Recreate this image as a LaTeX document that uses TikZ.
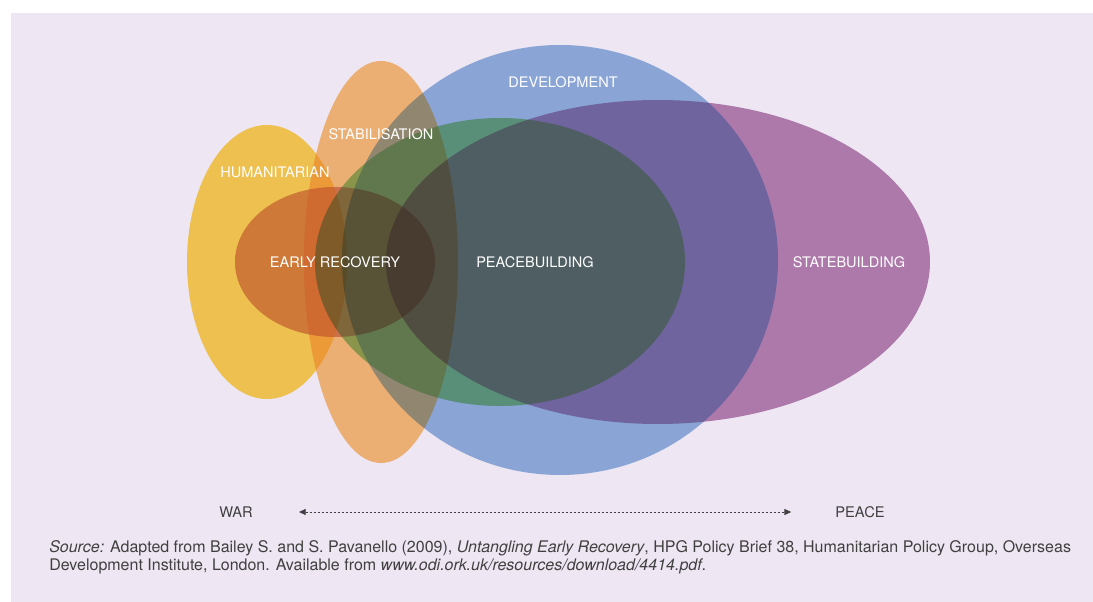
\documentclass[tikz,border=0pt]{standalone}
\usepackage{fontspec}
\setmainfont{TeX Gyre Heros}
\usetikzlibrary{positioning,arrows.meta}

\definecolor{bgpaper}{HTML}{EEE6F3}
\definecolor{humcol}{HTML}{FED554}
\definecolor{stabcol}{HTML}{FCC37A}
\definecolor{earlycol}{HTML}{DA9382}
\definecolor{devcol}{HTML}{94B7E0}
\definecolor{peacecol}{HTML}{8CCE84}
\definecolor{statecol}{HTML}{BA87B4}
\definecolor{captext}{HTML}{404040}

% the six zones, in pixels of the page
\newcommand\zoneshape[1]{\ifcase#1\or
	(267,262) ellipse [x radius=80, y radius=137]\or
	(381,262) ellipse [x radius=77, y radius=201]\or
	(335,262) ellipse [x radius=100, y radius=75]\or
	(560,260) ellipse [x radius=218, y radius=215]\or
	(500,262) ellipse [x radius=185, y radius=144]\or
	(658,262) ellipse [x radius=272, y radius=162]\fi}

\begin{document}
\begin{tikzpicture}[
		x=0.75pt, y=-0.75pt,
		zonelabel/.style={text=white, font=\fontsize{10.9}{13}\selectfont},
		endlabel/.style={text=captext, inner sep=0pt, font=\fontsize{11}{13}\selectfont},
		>={Triangle[length=5pt,width=4.5pt]}
		]
		% Fix the page and draw the paper
		\useasboundingbox (0,0) rectangle (1093,602);
		\fill[bgpaper] (11,13) rectangle (1093,602);
		% Draw the overlapping zones
		\begin{scope}[blend mode=multiply]
			\foreach \i/\col in {1/humcol,2/stabcol,3/earlycol,4/devcol,5/peacecol,6/statecol} {
				\fill[\col] \zoneshape{\i};
			}
		\end{scope}
		% Lighten where two zones meet
		\begin{scope}[transparency group, opacity=0.08]
			\foreach \i in {1,...,6} {
				\foreach \j in {1,...,6} {
					\ifnum\i<\j
						\begin{scope}
							\clip \zoneshape{\i};
							\fill[white] \zoneshape{\j};
						\end{scope}
					\fi
				}
			}
		\end{scope}
		% Lighten a little more where three zones meet
		\begin{scope}[transparency group, opacity=0.06]
			\foreach \i in {1,...,6} {
				\foreach \j in {1,...,6} {
					\foreach \k in {1,...,6} {
						\ifnum\i<\j \ifnum\j<\k
							\begin{scope}
								\clip \zoneshape{\i};
								\clip \zoneshape{\j};
								\fill[white] \zoneshape{\k};
							\end{scope}
						\fi\fi
					}
				}
			}
		\end{scope}
		% Draw the zone labels
		\node[zonelabel] (humlabel) at (275,172) {HUMANITARIAN};
		\node[zonelabel] (stablabel) at (381,134) {STABILISATION};
		\node[zonelabel] (devlabel) at (563,82) {DEVELOPMENT};
		\node[zonelabel] (earlylabel) at (335,262) {EARLY RECOVERY};
		\node[zonelabel] (peacelabel) at (535,262) {PEACEBUILDING};
		\node[zonelabel] (statelabel) at (849,262) {STATEBUILDING};
		% Draw the war to peace axis
		\node[endlabel] (war) at (236,512) {WAR};
		\node[endlabel] (peace) at (860,512) {PEACE};
		\draw[<->, captext, dash pattern=on 1.5pt off 1.5pt, line width=0.5pt,
			shorten <=34.5pt, shorten >=33pt] (war) -- (peace);
		% Draw the source note
		\node[anchor=north west, align=left, text=captext, inner sep=0pt,
			font=\fontsize{12}{14}\selectfont] (source) at (49,540)
			{\textit{Source:} Adapted from Bailey S. and S. Pavanello (2009), \textit{Untangling Early Recovery}, HPG Policy Brief 38, Humanitarian Policy Group, Overseas\\
			Development Institute, London. Available from \textit{www.odi.ork.uk/resources/download/4414.pdf}.};
	\end{tikzpicture}
\end{document}
